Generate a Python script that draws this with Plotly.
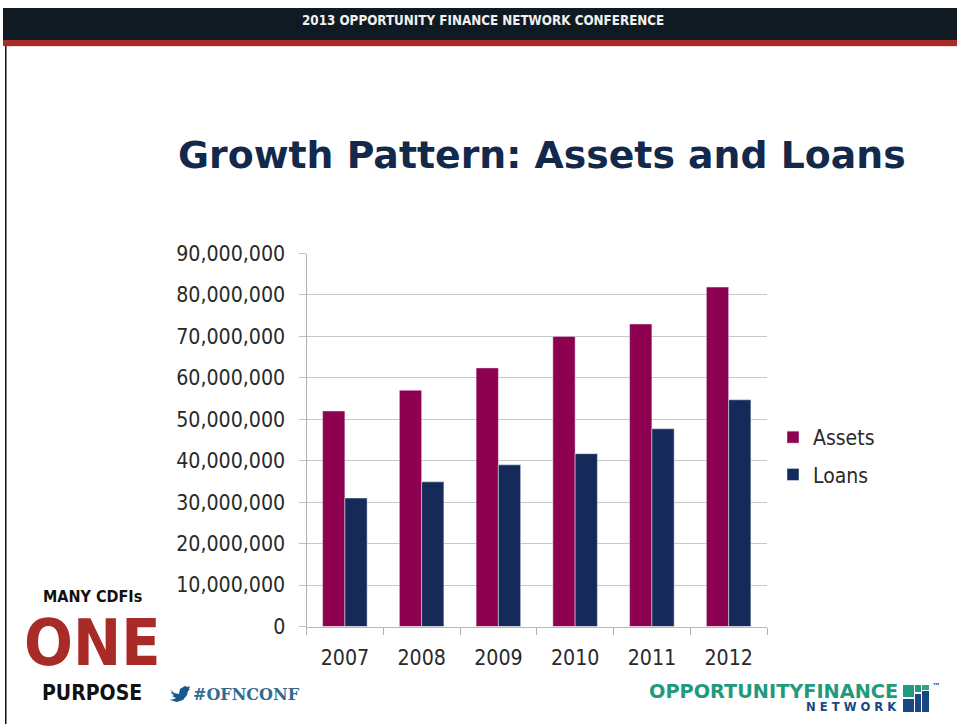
import plotly.graph_objects as go

W, H = 957, 724

years = ["2007", "2008", "2009", "2010", "2011", "2012"]
assets = [52000000, 57000000, 62400000, 70000000, 73000000, 81900000]
loans = [31000000, 34900000, 39000000, 41700000, 47700000, 54700000]
y_ticks = list(range(0, 90000001, 10000000))
y_tick_labels = [f"{v:,}" for v in y_ticks]

ASSET_COLOR = "#8e0050"
LOAN_COLOR = "#152a58"
TEXT = "#2a2a2a"
CONDENSED = "DejaVu Sans Condensed, DejaVu Sans, sans-serif"
WIDE = "DejaVu Sans, sans-serif"


def px(x):
    return x / W


def py(y):
    return 1 - y / H


def rect(x0, y0, x1, y1, color):
    return dict(type="rect", xref="paper", yref="paper", x0=px(x0), x1=px(x1),
                y0=py(y0), y1=py(y1), fillcolor=color, line_width=0, layer="below")


def label(text, x, y, size, color, font=CONDENSED, anchor="center", bold=True):
    shown = f"<b>{text}</b>" if bold else text
    return dict(text=shown, x=px(x), y=py(y), xref="paper", yref="paper",
                xanchor=anchor, yanchor="middle", showarrow=False,
                font=dict(family=font, size=size, color=color))


# Slide furniture: banner, rule and the left edge
shapes = [
    rect(3, 8, W, 40, "#101a22"),
    rect(3, 40, W, 46, "#a92b27"),
    rect(5, 46, W, 47, "#f8dcd2"),
    rect(5, 46, 6.5, H, "#111111"),
]

# Network logo tiles
for x0, y0, x1, y1, c in [
    (903, 685, 914, 697, "#1f9a7d"), (915, 685, 921, 692, "#1f9a7d"),
    (922, 685, 929, 690, "#2fa58a"), (903, 699, 914, 712, "#17487f"),
    (915, 694, 921, 712, "#17487f"), (922, 691, 929, 712, "#17487f"),
]:
    shapes.append(rect(x0, y0, x1, y1, c))

# Twitter bird outline
bird = [(170, 689), (174, 693), (179, 694), (180, 689), (185, 686), (188, 687),
        (190, 686), (189, 689), (190, 689), (188, 691), (187, 695), (183, 700),
        (177, 702), (170, 700), (174, 699), (176, 698), (172, 696), (174, 695),
        (171, 693), (172, 692)]
bird_path = "M" + "L".join(f"{px(a):.5f},{py(b):.5f}" for a, b in bird) + "Z"
shapes.append(dict(type="path", xref="paper", yref="paper", path=bird_path,
                   fillcolor="#14598f", line_width=0))

annotations = [
    label("2013 OPPORTUNITY FINANCE NETWORK CONFERENCE", 483.5, 20, 13.3, "#f0f0f0"),
    label("Growth Pattern: Assets and Loans", 541.5, 155, 37.8, "#12294b", font=WIDE),
    label("MANY CDFIs", 92, 596, 16, "#111111"),
    label("ONE", 91.5, 643, 64, "#a92b27"),
    label("PURPOSE", 92, 693, 21, "#111111"),
    label("#OFNCONF", 247, 694, 16, "#2f6b93", font="DejaVu Serif, serif"),
    label("OPPORTUNITYFINANCE", 773.5, 691, 19.3, "#1f9a7d", font=WIDE),
    label("N E T W O R K", 851.5, 707, 11.6, "#17487f", font=WIDE),
    label("™", 936, 686, 8, "#17487f", font=WIDE),
]

fig = go.Figure()
fig.add_bar(name="Assets", x=years, y=assets, marker_color=ASSET_COLOR, legendgroup="a")
fig.add_bar(name="Loans", x=years, y=loans, marker_color=LOAN_COLOR, legendgroup="l")

fig.update_layout(
    width=W, height=H,
    margin=dict(l=0, r=0, t=0, b=0, pad=0, autoexpand=False),
    paper_bgcolor="white", plot_bgcolor="white",
    barmode="group", bargap=0.42, bargroupgap=0,
    font=dict(family=CONDENSED, color=TEXT, size=21.2),
    shapes=shapes, annotations=annotations,
    legend=dict(x=px(773), y=py(456), xanchor="left", yanchor="middle",
                font=dict(size=21, color=TEXT), tracegroupgap=7,
                bgcolor="rgba(0,0,0,0)"),
    xaxis=dict(domain=[px(306.5), px(767)], type="category", tickson="boundaries",
               ticks="outside", ticklen=7, tickcolor="#b0b0b0", showline=True,
               linecolor="#b8b8b8", linewidth=1, showgrid=False, anchor="y",
               ticklabelstandoff=12),
    yaxis=dict(domain=[py(626.5), py(253.5)], range=[0, 90000000],
               tickmode="array", tickvals=y_ticks, ticktext=y_tick_labels,
               ticks="outside", ticklen=7, tickcolor="#c0c0c0", showline=True,
               linecolor="#b0b0b0", linewidth=1, gridcolor="#c8c8c8", gridwidth=1,
               zeroline=False, ticklabelstandoff=9),
)

fig.write_html("out.html")
